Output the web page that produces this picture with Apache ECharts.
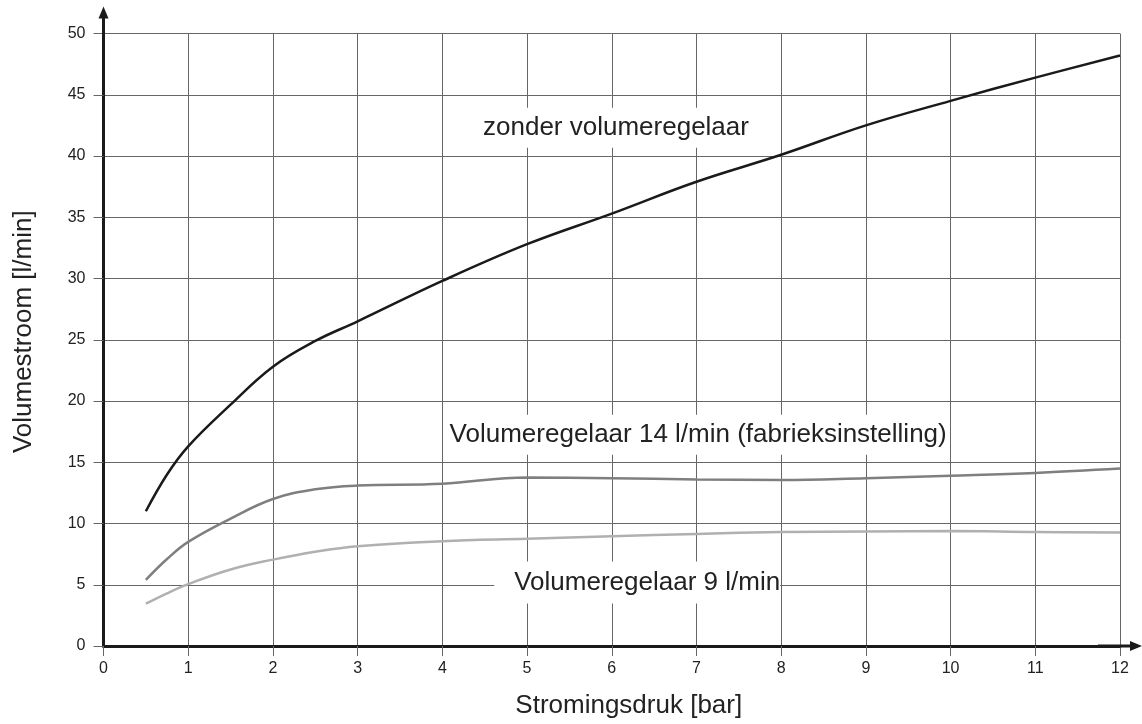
<!DOCTYPE html>
<html>
<head>
<meta charset="utf-8">
<script src="https://cdn.jsdelivr.net/npm/echarts@6/dist/echarts.min.js"></script>
<style>
  html, body { margin: 0; padding: 0; background: #fff; }
  #chart { width: 1142px; height: 724px; }
</style>
</head>
<body>
<div id="chart"></div>
<script>
// pressure [bar] on x, flow [l/min] on y
const pressure = [0.5, 0.75, 1, 1.5, 2, 2.5, 3, 4, 5, 6, 7, 8, 9, 10, 11, 12];
const flowFree = [11.0, 14.0, 16.3, 19.7, 22.8, 24.9, 26.5, 29.8, 32.8, 35.3, 37.9, 40.1, 42.5, 44.5, 46.4, 48.2];
const flow14 = [5.4, 7.1, 8.5, 10.4, 12.0, 12.8, 13.1, 13.25, 13.75, 13.7, 13.6, 13.55, 13.7, 13.9, 14.13, 14.48];
const flow9 = [3.45, 4.3, 5.05, 6.25, 7.05, 7.7, 8.15, 8.55, 8.75, 8.95, 9.15, 9.3, 9.35, 9.38, 9.3, 9.26];

const labelFree = 'zonder volumeregelaar';
const label14 = 'Volumeregelaar 14 l/min (fabrieksinstelling)';
const label9 = 'Volumeregelaar 9 l/min';

const chart = echarts.init(document.getElementById('chart'));
const font = '"Liberation Sans", Arial, sans-serif';
const gridColor = '#666';

function pairs(ys) {
  return pressure.map(function(x, i) { return [x, ys[i]]; });
}

function note(text, x, y, pad) {
  return {
    symbol: 'rect',
    symbolSize: 0,
    silent: true,
    label: {
      show: true,
      position: 'inside',
      color: '#222',
      fontFamily: font,
      fontSize: 26,
      backgroundColor: '#fff',
      padding: pad
    },
    data: [{ coord: [x, y], value: text, label: { formatter: text } }]
  };
}

// arrow with a stem so the axis runs past the grid
function arrowPath(h) {
  return 'path://M5,0 L10,12 L6.5,12 L6.5,' + h + ' L3.5,' + h + ' L3.5,12 L0,12 Z';
}

chart.setOption({
  backgroundColor: '#fff',
  animation: false,
  grid: {
    left: 103.5,
    right: 22,
    top: 33.5,
    bottom: 77.5
  },
  xAxis: {
    type: 'value',
    min: 0,
    max: 12,
    interval: 1,
    name: 'Stromingsdruk [bar]',
    nameLocation: 'middle',
    nameGap: 47,
    nameTextStyle: { fontFamily: font, fontSize: 26, color: '#222', padding: [0, 0, 0, 34] },
    axisLine: {
      show: true,
      onZero: false,
      symbol: ['none', arrowPath(44)],
      symbolSize: [10, 44],
      lineStyle: { color: '#1a1a1a', width: 3 }
    },
    axisTick: { show: true, length: 10, lineStyle: { color: gridColor } },
    axisLabel: { fontFamily: font, fontSize: 16, color: '#222', margin: 15 },
    splitLine: { show: true, lineStyle: { color: gridColor, width: 1 } }
  },
  yAxis: {
    type: 'value',
    min: 0,
    max: 50,
    interval: 5,
    name: 'Volumestroom [l/min]',
    nameLocation: 'middle',
    nameGap: 67,
    nameTextStyle: { fontFamily: font, fontSize: 26, color: '#222', padding: [0, 0, 0, 16] },
    axisLine: {
      show: true,
      onZero: false,
      symbol: ['none', arrowPath(54)],
      symbolSize: [10, 54],
      lineStyle: { color: '#1a1a1a', width: 3 }
    },
    axisTick: { show: true, length: 10, lineStyle: { color: gridColor } },
    axisLabel: { fontFamily: font, fontSize: 16, color: '#222', margin: 18 },
    splitLine: { show: true, lineStyle: { color: gridColor, width: 1 } }
  },
  series: [
    {
      name: labelFree,
      type: 'line',
      smooth: 0.4,
      showSymbol: false,
      lineStyle: { color: '#1a1a1a', width: 2.5 },
      data: pairs(flowFree),
      markPoint: note(labelFree, 6.05, 42.3, [7, 10])
    },
    {
      name: label14,
      type: 'line',
      smooth: 0.4,
      showSymbol: false,
      lineStyle: { color: '#7f7f7f', width: 2.5 },
      data: pairs(flow14),
      markPoint: note(label14, 7.02, 17.25, [7, 2])
    },
    {
      name: label9,
      type: 'line',
      smooth: 0.4,
      showSymbol: false,
      lineStyle: { color: '#b0b0b0', width: 2.5 },
      data: pairs(flow9),
      markPoint: note(label9, 6.3, 5.18, [8, 0, 8, 20])
    }
  ]
});
</script>
</body>
</html>
